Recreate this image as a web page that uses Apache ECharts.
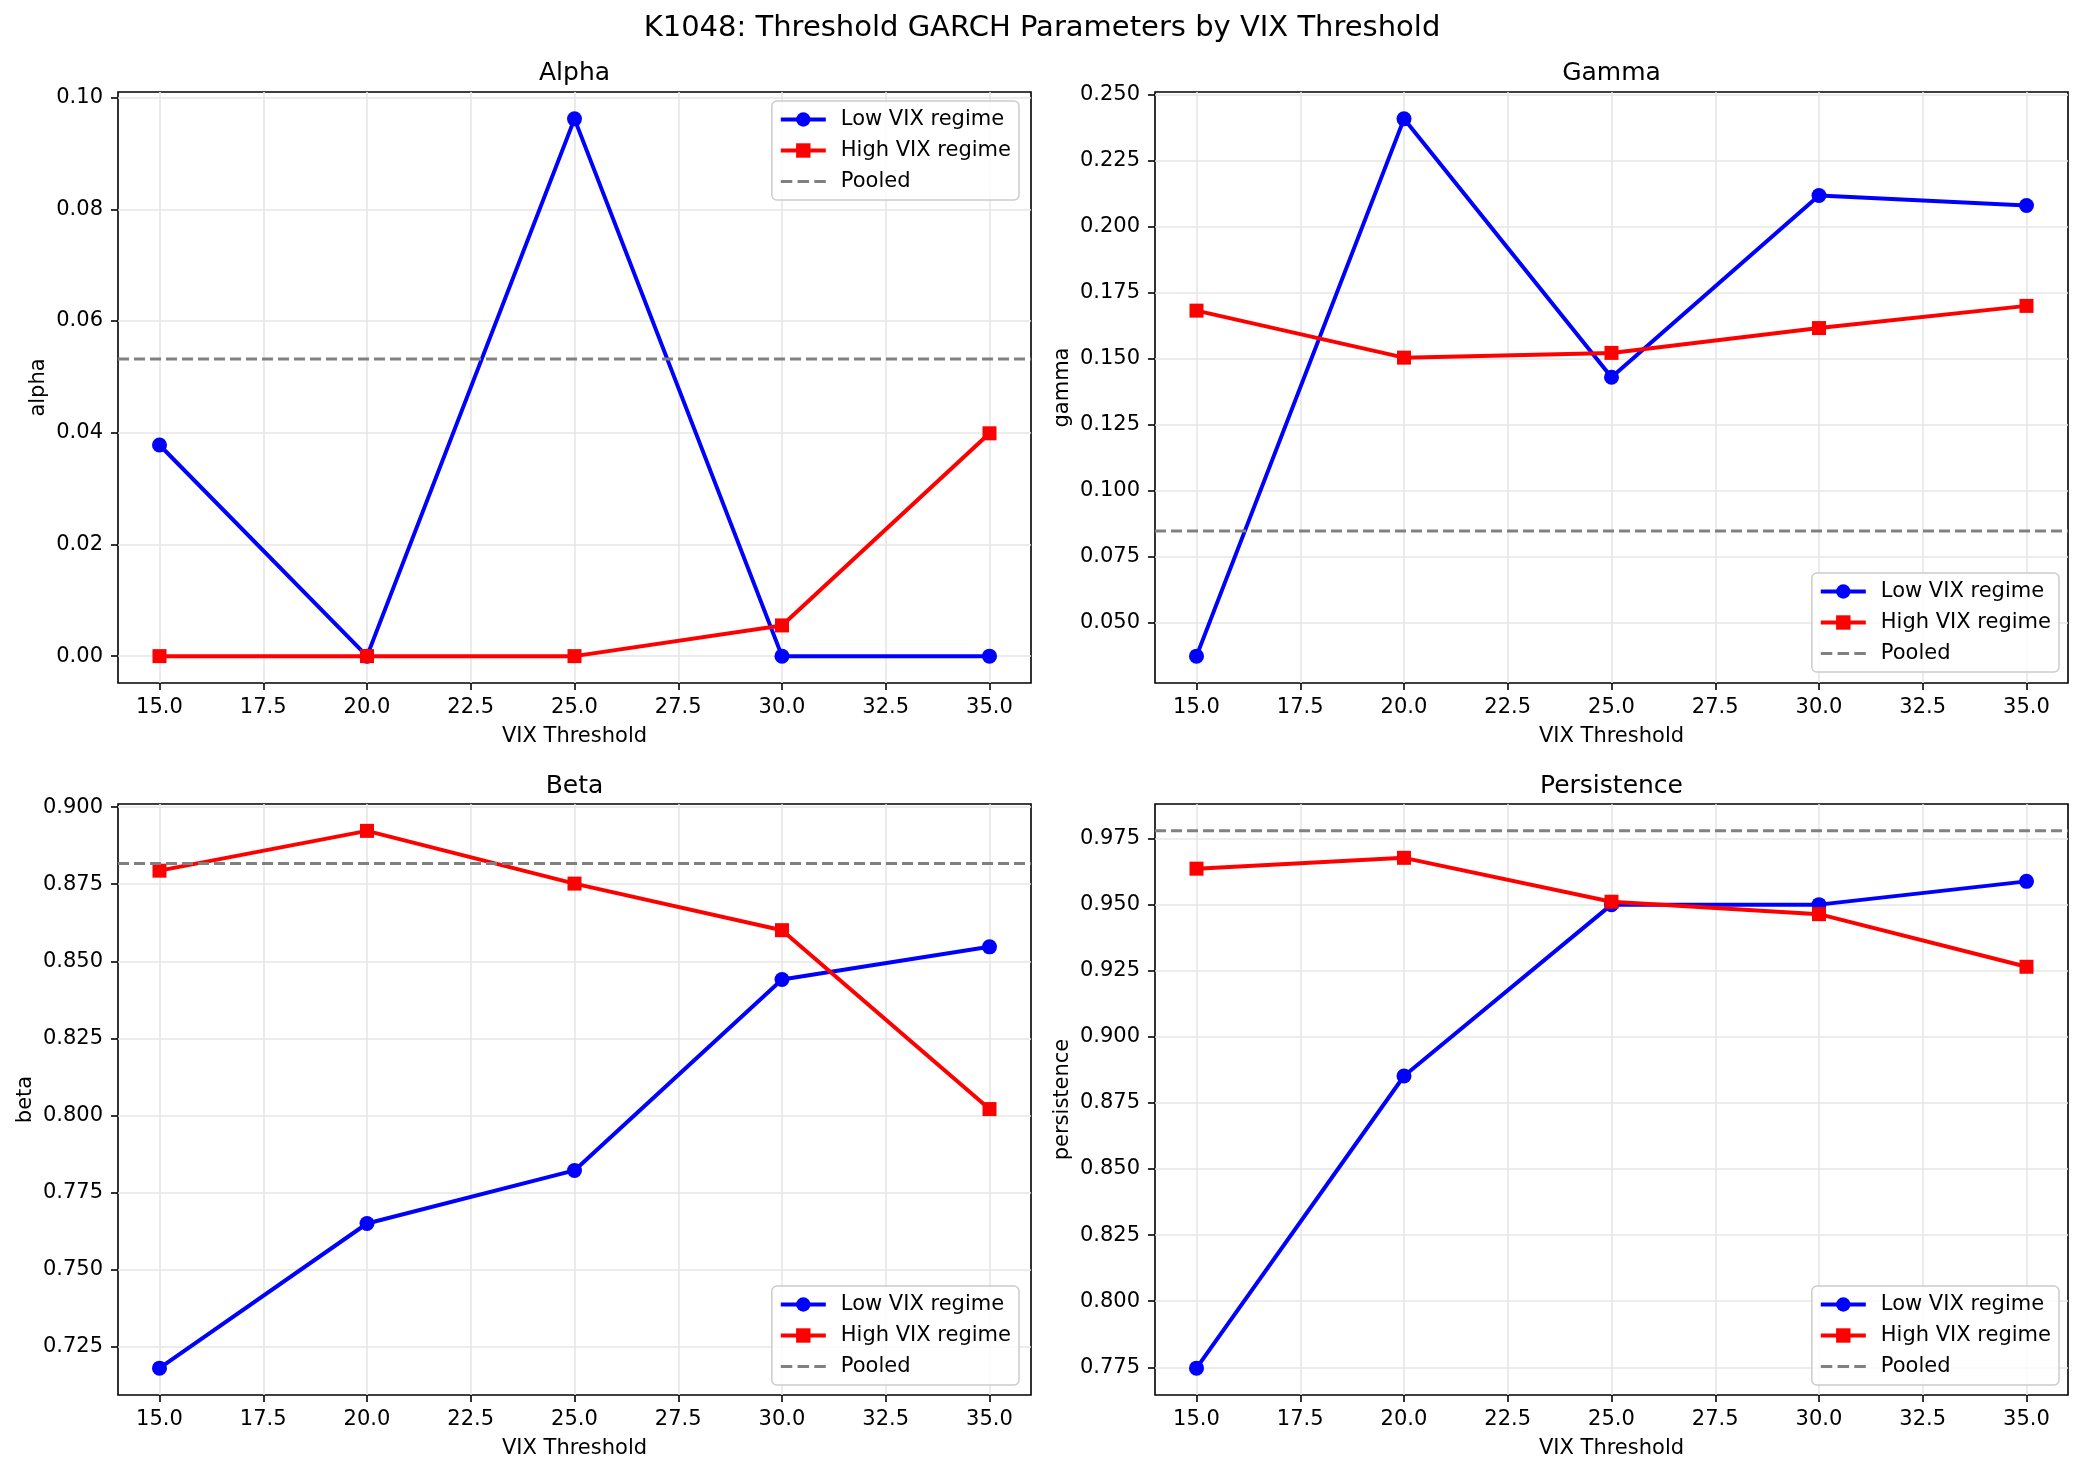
<!DOCTYPE html>
<html>
<head>
<meta charset="utf-8">
<script src="https://cdn.jsdelivr.net/npm/echarts@6/dist/echarts.min.js"></script>
<style>
  html, body { margin: 0; padding: 0; background: #fff; }
  #chart { width: 2084px; height: 1475px; }
</style>
</head>
<body>
<div id="chart"></div>
<script>
// data
var thresholds = [15, 20, 25, 30, 35];
var xTicks = [15, 17.5, 20, 22.5, 25, 27.5, 30, 32.5, 35];

var alphaLow = [0.0378, 0.0, 0.0962, 0.0, 0.0];
var alphaHigh = [0.0, 0.0, 0.0, 0.0055, 0.0399];
var alphaPooled = 0.0532;
var alphaTicks = [0.00, 0.02, 0.04, 0.06, 0.08, 0.10];

var gammaLow = [0.0374, 0.2408, 0.1430, 0.2118, 0.2080];
var gammaHigh = [0.1682, 0.1504, 0.1522, 0.1616, 0.1700];
var gammaPooled = 0.0848;
var gammaTicks = [0.050, 0.075, 0.100, 0.125, 0.150, 0.175, 0.200, 0.225, 0.250];

var betaLow = [0.7181, 0.7650, 0.7822, 0.8441, 0.8547];
var betaHigh = [0.8794, 0.8923, 0.8752, 0.8601, 0.8021];
var betaPooled = 0.8817;
var betaTicks = [0.725, 0.750, 0.775, 0.800, 0.825, 0.850, 0.875, 0.900];

var persLow = [0.7747, 0.8852, 0.9500, 0.9500, 0.9588];
var persHigh = [0.9636, 0.9677, 0.9511, 0.9464, 0.9265];
var persPooled = 0.9779;
var persTicks = [0.775, 0.800, 0.825, 0.850, 0.875, 0.900, 0.925, 0.950, 0.975];

var FONT = 'DejaVu Sans';

// matplotlib style 5% margins
function limits(arrs) {
    var all = [].concat.apply([], arrs);
    var lo = Math.min.apply(null, all), hi = Math.max.apply(null, all);
    var pad = (hi - lo) * 0.05;
    return { min: lo - pad, max: hi + pad };
}

var xr = limits([thresholds]);

var panels = [
    { title: 'Alpha', yName: 'alpha', low: alphaLow, high: alphaHigh, pooled: alphaPooled, ticks: alphaTicks, dec: 2,
      grid: { left: 118, top: 92 }, nameGap: 69, legend: { right: 1065, top: 101 } },
    { title: 'Gamma', yName: 'gamma', low: gammaLow, high: gammaHigh, pooled: gammaPooled, ticks: gammaTicks, dec: 3,
      grid: { left: 1155, top: 92 }, nameGap: 82, legend: { right: 25, bottom: 803 } },
    { title: 'Beta', yName: 'beta', low: betaLow, high: betaHigh, pooled: betaPooled, ticks: betaTicks, dec: 3,
      grid: { left: 118, top: 804 }, nameGap: 82, legend: { right: 1065, bottom: 90 } },
    { title: 'Persistence', yName: 'persistence', low: persLow, high: persHigh, pooled: persPooled, ticks: persTicks, dec: 3,
      grid: { left: 1155, top: 804 }, nameGap: 82, legend: { right: 25, bottom: 90 } }
];

var grids = [], xAxes = [], yAxes = [], series = [], legends = [], graphics = [];

graphics.push({
    type: 'text', x: 1042, y: 28,
    style: { text: 'K1048: Threshold GARCH Parameters by VIX Threshold', fontSize: 29, fontFamily: FONT,
             fill: '#000', align: 'center', verticalAlign: 'middle', textAlign: 'center', textVerticalAlign: 'middle' }
});

panels.forEach(function (p, i) {
    var yr = limits([p.low, p.high, [p.pooled]]);
    grids.push({
        left: p.grid.left, top: p.grid.top, width: 913, height: 591,
        show: true, borderColor: '#000', borderWidth: 1.6, backgroundColor: 'transparent',
        containLabel: false, outerBoundsMode: 'none'
    });
    var tickStyle = { show: true, length: 7, lineStyle: { color: '#000', width: 1.6 } };
    var gridLine = { show: true, lineStyle: { color: '#e6e6e6', width: 1.6 } };
    xAxes.push({
        type: 'value', gridIndex: i, min: xr.min, max: xr.max,
        name: 'VIX Threshold', nameLocation: 'middle', nameGap: 43,
        nameTextStyle: { fontSize: 21, color: '#000', fontFamily: FONT },
        axisLine: { show: false, onZero: false },
        axisTick: Object.assign({ customValues: xTicks }, tickStyle),
        axisLabel: { customValues: xTicks, fontSize: 21, color: '#000', fontFamily: FONT, margin: 14,
                     formatter: function (v) { return v.toFixed(1); } },
        splitLine: gridLine
    });
    yAxes.push({
        type: 'value', gridIndex: i, min: yr.min, max: yr.max,
        name: p.yName, nameLocation: 'middle', nameGap: p.nameGap,
        nameTextStyle: { fontSize: 21, color: '#000', fontFamily: FONT },
        axisLine: { show: false, onZero: false },
        axisTick: Object.assign({ customValues: p.ticks }, tickStyle),
        axisLabel: { customValues: p.ticks, fontSize: 21, color: '#000', fontFamily: FONT, margin: 15,
                     formatter: function (v) { return v.toFixed(p.dec); } },
        splitLine: gridLine
    });
    series.push({
        name: 'Low VIX regime', type: 'line', xAxisIndex: i, yAxisIndex: i,
        data: thresholds.map(function (x, j) { return [x, p.low[j]]; }),
        symbol: 'circle', symbolSize: 15,
        lineStyle: { width: 4, color: '#0000ff' }, itemStyle: { color: '#0000ff' }, z: 2
    });
    series.push({
        name: 'High VIX regime', type: 'line', xAxisIndex: i, yAxisIndex: i,
        data: thresholds.map(function (x, j) { return [x, p.high[j]]; }),
        symbol: 'rect', symbolSize: 14,
        lineStyle: { width: 4, color: '#ff0000' }, itemStyle: { color: '#ff0000' }, z: 3
    });
    series.push({
        name: 'Pooled', type: 'line', xAxisIndex: i, yAxisIndex: i,
        data: [[xr.min, p.pooled], [xr.max, p.pooled]],
        symbol: 'none',
        lineStyle: { width: 3, color: '#808080', type: [11, 5] }, itemStyle: { color: '#808080' }, z: 4
    });
    legends.push(Object.assign({
        orient: 'vertical', itemWidth: 45, itemHeight: 18, itemGap: 10,
        padding: [8, 8, 8, 7],
        backgroundColor: 'rgba(255,255,255,0.8)', borderColor: '#cccccc', borderWidth: 1.5, borderRadius: 5,
        textStyle: { fontSize: 21, color: '#000', fontFamily: FONT, padding: [0, 0, 0, 10] },
        lineStyle: { width: 4 },
        selectedMode: false,
        data: [
            { name: 'Low VIX regime' },
            { name: 'High VIX regime' },
            { name: 'Pooled', icon: 'path://M0,0h11v3h-11zM16,0h11v3h-11zM32,0h11v3h-11z', itemStyle: { color: '#808080' } }
        ]
    }, p.legend));
    graphics.push({
        type: 'text', x: p.grid.left + 913 / 2, y: p.grid.top - (i < 2 ? 19 : 18),
        style: { text: p.title, fontSize: 25, fontFamily: FONT, fill: '#000',
                 align: 'center', verticalAlign: 'middle', textAlign: 'center', textVerticalAlign: 'middle' }
    });
});

var chart = echarts.init(document.getElementById('chart'));
chart.setOption({
    backgroundColor: '#fff',
    animation: false,
    textStyle: { fontFamily: FONT },
    grid: grids,
    xAxis: xAxes,
    yAxis: yAxes,
    legend: legends,
    series: series,
    graphic: graphics
});
</script>
</body>
</html>
